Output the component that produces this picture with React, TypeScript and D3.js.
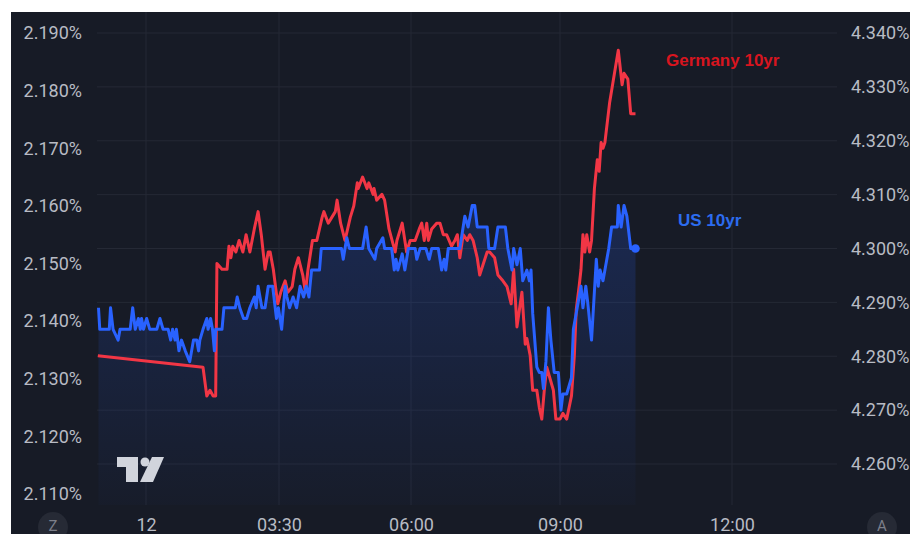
import { useEffect, useRef } from 'react';
import * as d3 from 'd3';

// Time is minutes from midnight of the 12th (negative = late on the 11th)
const usTimes = [
  -75, -73, -58, -56, -52, -44, -41, -25, -21, -17,
  -12, -9, -7, -4, 1, 6, 17, 22, 27, 35,
  39, 42, 46, 48, 52, 56, 62, 69, 75, 80,
  83, 85, 90, 96, 98, 102, 105, 108, 110, 120,
  123, 141, 144, 148, 154, 159, 164, 171, 174, 177,
  183, 188, 193, 200, 206, 209, 213, 217, 219, 222,
  226, 230, 234, 238, 241, 244, 247, 256, 258, 281,
  283, 287, 290, 305, 309, 312, 319, 321, 328, 330,
  338, 341, 343, 345, 350, 353, 357, 365, 367, 371,
  378, 382, 385, 393, 397, 400, 402, 405, 419, 423,
  425, 429, 434, 437, 440, 452, 454, 461, 465, 474,
  477, 482, 484, 488, 492, 495, 500, 503, 505, 507,
  512, 515, 518, 520, 523, 526, 529, 533, 538, 541,
  543, 547, 552, 554, 558, 562, 564, 567, 569, 573,
  578, 580, 582, 585, 587, 591, 594, 600, 601, 604,
  607, 610, 614, 619,
];
const usYields = [
  4.289, 4.285, 4.285, 4.289, 4.285, 4.283, 4.285, 4.285, 4.289, 4.285,
  4.287, 4.285, 4.287, 4.285, 4.287, 4.285, 4.285, 4.287, 4.285, 4.285,
  4.283, 4.285, 4.283, 4.285, 4.281, 4.283, 4.281, 4.279, 4.283, 4.283,
  4.281, 4.283, 4.285, 4.287, 4.285, 4.287, 4.285, 4.281, 4.285, 4.285,
  4.289, 4.289, 4.291, 4.289, 4.287, 4.287, 4.289, 4.291, 4.289, 4.293,
  4.289, 4.289, 4.293, 4.293, 4.287, 4.289, 4.285, 4.293, 4.291, 4.289,
  4.291, 4.289, 4.293, 4.291, 4.293, 4.291, 4.296, 4.296, 4.300, 4.300,
  4.298, 4.302, 4.300, 4.300, 4.304, 4.300, 4.298, 4.300, 4.302, 4.300,
  4.300, 4.296, 4.298, 4.296, 4.299, 4.296, 4.300, 4.300, 4.298, 4.300,
  4.300, 4.298, 4.300, 4.300, 4.296, 4.298, 4.296, 4.300, 4.300, 4.304,
  4.306, 4.304, 4.308, 4.308, 4.304, 4.304, 4.300, 4.300, 4.304, 4.304,
  4.300, 4.296, 4.300, 4.297, 4.300, 4.294, 4.296, 4.294, 4.296, 4.288,
  4.278, 4.277, 4.277, 4.274, 4.279, 4.289, 4.283, 4.277, 4.277, 4.270,
  4.273, 4.273, 4.276, 4.285, 4.289, 4.293, 4.289, 4.293, 4.290, 4.283,
  4.298, 4.293, 4.296, 4.294, 4.296, 4.300, 4.304, 4.304, 4.308, 4.304,
  4.308, 4.306, 4.300, 4.300,
];

const deTimes = [
  -76, 90, 96, 101, 106, 110, 112, 120, 128, 131,
  134, 137, 142, 147, 153, 158, 164, 171, 177, 182,
  185, 188, 193, 196, 201, 208, 212, 217, 220, 225,
  228, 232, 237, 240, 243, 248, 253, 259, 261, 266,
  270, 274, 276, 280, 285, 291, 295, 299, 300, 305,
  310, 312, 317, 318, 321, 327, 330, 335, 342, 344,
  350, 352, 355, 359, 365, 370, 373, 376, 379, 381,
  385, 391, 395, 399, 403, 409, 413, 416, 419, 423,
  428, 431, 435, 440, 443, 452, 455, 461, 465, 471,
  476, 481, 484, 488, 492, 494, 498, 500, 504, 507,
  512, 515, 518, 521, 524, 528, 532, 535, 540, 543,
  547, 552, 555, 557, 560, 562, 564, 566, 568, 571,
  573, 576, 579, 581, 583, 585, 587, 592, 597, 601,
  605, 607, 611, 614, 619,
];
const deYields = [
  2.134, 2.132, 2.127, 2.128, 2.127, 2.127, 2.150, 2.149, 2.149, 2.153,
  2.151, 2.153, 2.152, 2.154, 2.152, 2.155, 2.152, 2.156, 2.159, 2.155,
  2.152, 2.149, 2.152, 2.152, 2.149, 2.143, 2.145, 2.147, 2.145, 2.146,
  2.149, 2.151, 2.148, 2.145, 2.149, 2.154, 2.154, 2.158, 2.159, 2.157,
  2.158, 2.159, 2.161, 2.157, 2.154, 2.158, 2.160, 2.164, 2.163, 2.165,
  2.163, 2.164, 2.162, 2.163, 2.161, 2.162, 2.161, 2.156, 2.152, 2.154,
  2.157, 2.155, 2.152, 2.154, 2.154, 2.156, 2.157, 2.154, 2.157, 2.154,
  2.156, 2.157, 2.157, 2.155, 2.155, 2.153, 2.154, 2.155, 2.151, 2.155,
  2.154, 2.155, 2.154, 2.151, 2.148, 2.152, 2.152, 2.151, 2.148, 2.147,
  2.146, 2.143, 2.149, 2.139, 2.143, 2.145, 2.136, 2.137, 2.134, 2.128,
  2.128, 2.125, 2.123, 2.128, 2.132, 2.130, 2.128, 2.123, 2.123, 2.124,
  2.123, 2.127, 2.134, 2.142, 2.146, 2.149, 2.155, 2.152, 2.155, 2.152,
  2.154, 2.163, 2.168, 2.166, 2.171, 2.170, 2.171, 2.178, 2.183, 2.187,
  2.181, 2.183, 2.182, 2.176, 2.176,
];

const timeTicks = [0, 210, 360, 540, 720];
const timeTickLabels = ['12', '03:30', '06:00', '09:00', '12:00'];
const deTicks = [2.11, 2.12, 2.13, 2.14, 2.15, 2.16, 2.17, 2.18, 2.19];
const usTicks = [4.26, 4.27, 4.28, 4.29, 4.30, 4.31, 4.32, 4.33, 4.34];

export default function App() {
  const svgRef = useRef<SVGSVGElement>(null);

  useEffect(() => {
    if (!svgRef.current) return;
    document.body.style.margin = '0';

    const width = 910;
    const height = 534;
    const plot = { left: 97, right: 837, top: 12, bottom: 505 };
    const font = 'Roboto, "Noto Sans", sans-serif';
    const textColor = '#b8bbc4';
    const gridColor = '#252935';

    const svg = d3.select(svgRef.current);
    svg.selectAll('*').remove();
    svg.attr('width', width).attr('height', height);

    // TradingView-like time axis: session gaps make hours unevenly spaced
    const x = d3.scaleLinear().domain(timeTicks).range([146, 279, 411, 560, 732]);
    const yDe = d3.scaleLinear().domain([2.11, 2.19]).range([494, 33]);
    const yUs = d3.scaleLinear().domain([4.26, 4.34]).range([464, 33]);

    svg.append('rect')
      .attr('x', 11).attr('y', 12)
      .attr('width', width - 11).attr('height', height - 12)
      .attr('fill', '#171b26');

    const grid = svg.append('g');
    grid.selectAll('.hgrid')
      .data(usTicks)
      .enter()
      .append('line')
      .attr('x1', plot.left).attr('x2', plot.right)
      .attr('y1', d => yUs(d)).attr('y2', d => yUs(d))
      .attr('stroke', gridColor);
    grid.selectAll('.vgrid')
      .data(timeTicks)
      .enter()
      .append('line')
      .attr('x1', d => x(d)).attr('x2', d => x(d))
      .attr('y1', plot.top).attr('y2', plot.bottom)
      .attr('stroke', gridColor);

    const us = usTimes.map((t, i) => ({ t, v: usYields[i] }));
    const de = deTimes.map((t, i) => ({ t, v: deYields[i] }));

    const defs = svg.append('defs');
    const grad = defs.append('linearGradient')
      .attr('id', 'usArea')
      .attr('gradientUnits', 'userSpaceOnUse')
      .attr('x1', 0).attr('x2', 0)
      .attr('y1', yUs(d3.max(usYields) as number)).attr('y2', plot.bottom);
    grad.append('stop').attr('offset', 0).attr('stop-color', '#2962ff').attr('stop-opacity', 0.2);
    grad.append('stop').attr('offset', 1).attr('stop-color', '#2962ff').attr('stop-opacity', 0.02);

    svg.append('path')
      .datum(us)
      .attr('fill', 'url(#usArea)')
      .attr('d', d3.area<{ t: number; v: number }>()
        .x(d => x(d.t))
        .y0(plot.bottom)
        .y1(d => yUs(d.v)));

    svg.append('path')
      .datum(de)
      .attr('fill', 'none')
      .attr('stroke', '#f23645')
      .attr('stroke-width', 3)
      .attr('stroke-linejoin', 'round')
      .attr('d', d3.line<{ t: number; v: number }>()
        .x(d => x(d.t))
        .y(d => yDe(d.v)));

    svg.append('path')
      .datum(us)
      .attr('fill', 'none')
      .attr('stroke', '#2962ff')
      .attr('stroke-width', 3)
      .attr('stroke-linejoin', 'round')
      .attr('d', d3.line<{ t: number; v: number }>()
        .x(d => x(d.t))
        .y(d => yUs(d.v)));

    const last = us[us.length - 1];
    svg.append('circle')
      .attr('cx', x(last.t)).attr('cy', yUs(last.v))
      .attr('r', 4.3)
      .attr('fill', '#2962ff');

    // axes
    const leftAxis = svg.append('g')
      .attr('transform', 'translate(82,0)')
      .call(d3.axisLeft(yDe).tickValues(deTicks).tickSize(0).tickPadding(0)
        .tickFormat(d => `${(d as number).toFixed(3)}%`));
    const rightAxis = svg.append('g')
      .attr('transform', 'translate(851,0)')
      .call(d3.axisRight(yUs).tickValues(usTicks).tickSize(0).tickPadding(0)
        .tickFormat(d => `${(d as number).toFixed(3)}%`));
    const bottomAxis = svg.append('g')
      .attr('transform', `translate(0,${plot.bottom})`)
      .call(d3.axisBottom(x).tickValues(timeTicks).tickSize(0).tickPadding(13)
        .tickFormat((_, i) => timeTickLabels[i]));

    [leftAxis, rightAxis, bottomAxis].forEach(g => {
      g.select('.domain').remove();
      g.attr('font-family', font).attr('font-size', 18);
      g.selectAll('text').attr('fill', textColor);
    });

    // series labels
    svg.append('text')
      .attr('x', 666).attr('y', 66)
      .attr('font-family', '"Liberation Sans", Arial, sans-serif')
      .attr('font-weight', 'bold')
      .attr('font-size', 17)
      .attr('fill', '#d8151f')
      .text('Germany 10yr');
    svg.append('text')
      .attr('x', 678).attr('y', 226)
      .attr('font-family', '"Liberation Sans", Arial, sans-serif')
      .attr('font-weight', 'bold')
      .attr('font-size', 17)
      .attr('fill', '#2c6cf0')
      .text('US 10yr');

    // scale mode buttons
    [{ cx: 53, label: 'Z' }, { cx: 882, label: 'A' }].forEach(b => {
      svg.append('circle')
        .attr('cx', b.cx).attr('cy', 527).attr('r', 15)
        .attr('fill', '#262a35');
      svg.append('text')
        .attr('x', b.cx).attr('y', 531)
        .attr('text-anchor', 'middle')
        .attr('font-family', font)
        .attr('font-size', 15)
        .attr('fill', '#7c7f8a')
        .text(b.label);
    });

    // logo
    const logo = svg.append('g').attr('fill', '#d1d4dc');
    logo.append('path').attr('d', 'M117,457 H138 V482 H126 V467 H117 Z');
    logo.append('circle').attr('cx', 145).attr('cy', 462).attr('r', 4.5);
    logo.append('path').attr('d', 'M152,457 H164 L153,482 H140 Z');
  }, []);

  return <svg ref={svgRef} style={{ display: 'block', background: '#fff' }} />;
}
